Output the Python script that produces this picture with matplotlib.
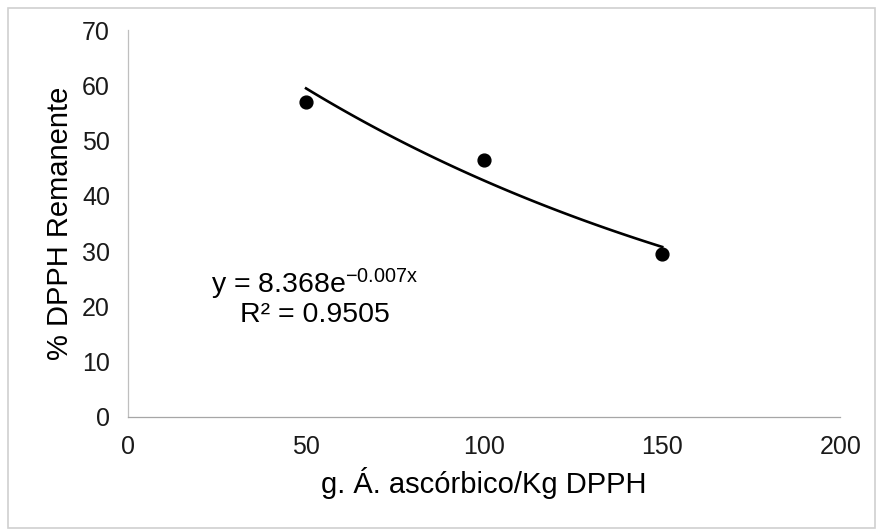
import numpy as np
import matplotlib.pyplot as plt
from matplotlib.patches import Rectangle

plt.rcParams['font.family'] = ['Liberation Sans', 'DejaVu Sans']
plt.rcParams['mathtext.fontset'] = 'custom'
plt.rcParams['mathtext.rm'] = 'Liberation Sans'
plt.rcParams['mathtext.it'] = 'Liberation Sans'

# data
acido = [50, 100, 150]
dpph_rem = [57.0, 46.5, 29.5]
x_ticks = [0, 50, 100, 150, 200]
y_ticks = [0, 10, 20, 30, 40, 50, 60, 70]

# exponential trendline fitted on the points
b, ln_a = np.polyfit(acido, np.log(dpph_rem), 1)
xs = np.linspace(min(acido), max(acido), 100)
ys = np.exp(ln_a) * np.exp(b * xs)

fig = plt.figure(figsize=(8.78, 5.31), dpi=100)
ax = fig.add_axes([0.1458, 0.2147, 0.8112, 0.7288])

ax.scatter(acido, dpph_rem, color='black', s=85, zorder=3)
ax.plot(xs, ys, color='black', lw=1.9)

ax.set_xlim(0, 200)
ax.set_ylim(0, 70)
ax.set_xticks(x_ticks)
ax.set_yticks(y_ticks)
ax.tick_params(length=0, labelsize=18, colors='#1a1a1a', pad=13)
ax.tick_params(axis='x', pad=13)

for s in ['top', 'right']:
    ax.spines[s].set_visible(False)
ax.spines['left'].set_color('#bfbfbf')
ax.spines['bottom'].set_color('#a6a6a6')
ax.spines['left'].set_linewidth(0.9)
ax.spines['bottom'].set_linewidth(0.9)

ax.set_xlabel('g. Á. ascórbico/Kg DPPH', fontsize=21, labelpad=6)
ax.set_ylabel('% DPPH Remanente', fontsize=21, labelpad=6)

ax.text(52.5, 24.0, r'y = 8.368e$^{-0.007x}$', fontsize=20.5, ha='center', va='center')
ax.text(52.5, 18.4, 'R² = 0.9505', fontsize=20.5, ha='center', va='center')

fig.patches.append(Rectangle((0.009, 0.006), 0.988, 0.979, transform=fig.transFigure,
                             fill=False, edgecolor='#d0d0d0', lw=1.2))

fig.savefig('out.png', dpi=100)
